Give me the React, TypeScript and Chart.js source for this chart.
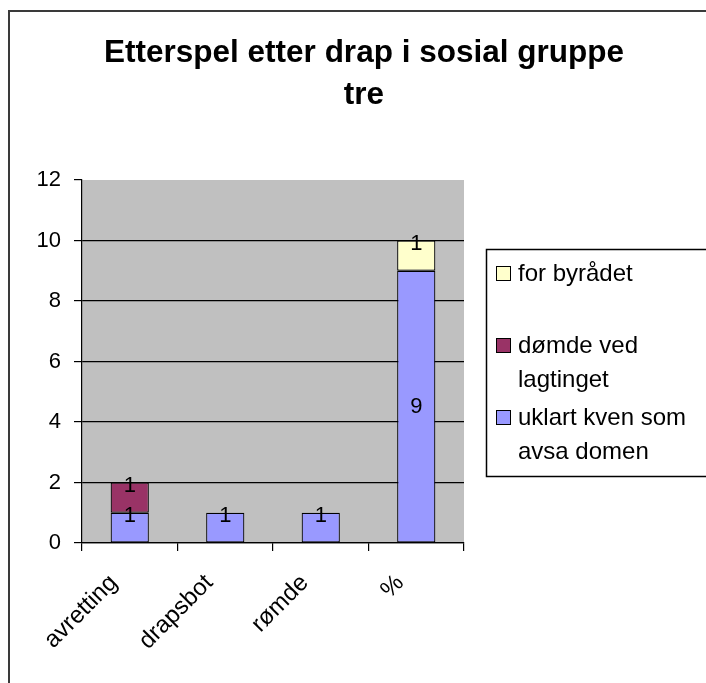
import React, { useEffect, useRef } from 'react';
import { Chart, registerables, layouts } from 'chart.js';

Chart.register(...registerables);

// ---- data ----
const categories = ['avretting', 'drapsbot', 'rømde', '%'];
const uklartKvenSom = [1, 1, 1, 9];
const domdeVedLagtinget = [1, null, null, null];
const forByradet = [null, null, null, 1];
const seriesNames = ['uklart kven som avsa domen', 'dømde ved lagtinget', 'for byrådet'];
const seriesColors = ['#9999FF', '#993366', '#FFFFCC'];
const titleLines = ['Etterspel etter drap i sosial gruppe', 'tre'];
const yMin = 0;
const yMax = 12;
const yStep = 2;

const FONT = '"Liberation Sans", Arial, sans-serif';

function wrapText(ctx: CanvasRenderingContext2D, text: string, maxW: number): string[] {
  const words = text.split(' ');
  const lines: string[] = [];
  let cur = '';
  for (const w of words) {
    const t = cur ? cur + ' ' + w : w;
    if (cur && ctx.measureText(t).width > maxW) {
      lines.push(cur);
      cur = w;
    } else {
      cur = t;
    }
  }
  if (cur) lines.push(cur);
  return lines;
}

function drawSideLegend(chart: any) {
  const ctx: CanvasRenderingContext2D = chart.ctx;
  const boxL = 486, boxT = 249, boxB = 476;
  ctx.save();
  ctx.strokeStyle = '#000';
  ctx.lineWidth = 1.5;
  ctx.strokeRect(boxL + 0.5, boxT + 0.5, chart.width - boxL + 20, boxB - boxT);
  ctx.font = '24px ' + FONT;
  ctx.textBaseline = 'middle';
  ctx.textAlign = 'left';
  const ds = chart.data.datasets.slice().reverse();
  ds.forEach((d: any, i: number) => {
    const y0 = 274 + 72 * i;
    ctx.fillStyle = d.backgroundColor;
    ctx.fillRect(496, y0 - 8, 15, 15);
    ctx.strokeStyle = '#000';
    ctx.lineWidth = 1;
    ctx.strokeRect(496.5, y0 - 7.5, 14, 14);
    ctx.fillStyle = '#000';
    const lines = wrapText(ctx, d.label, 185);
    lines.forEach((ln, j) => ctx.fillText(ln, 518, y0 + j * 34));
  });
  ctx.restore();
}

const sideLegendPlugin = {
  id: 'sideLegend',
  beforeInit(chart: any) {
    const box: any = {
      position: 'right',
      weight: 100,
      fullSize: false,
      options: {},
      left: 0, top: 0, right: 0, bottom: 0, width: 0, height: 0,
      isHorizontal() { return false; },
      update(_mw: number, maxHeight: number) { this.width = 242; this.height = maxHeight; },
      getPadding() { return { top: 0, left: 0, right: 0, bottom: 0 }; },
      draw() { drawSideLegend(chart); },
    };
    layouts.addBox(chart, box);
  },
};

const backgroundPlugin = {
  id: 'bgFrame',
  beforeDraw(chart: any) {
    const ctx: CanvasRenderingContext2D = chart.ctx;
    const a = chart.chartArea;
    ctx.save();
    ctx.fillStyle = '#fff';
    ctx.fillRect(0, 0, chart.width, chart.height);
    ctx.strokeStyle = '#3a3a3a';
    ctx.lineWidth = 2;
    ctx.beginPath();
    ctx.moveTo(9, chart.height + 5);
    ctx.lineTo(9, 11);
    ctx.lineTo(chart.width + 5, 11);
    ctx.stroke();
    ctx.fillStyle = '#C0C0C0';
    ctx.fillRect(a.left, a.top, a.right - a.left, a.bottom - a.top);
    ctx.restore();
  },
};

const valueLabelPlugin = {
  id: 'valueLabels',
  afterDatasetsDraw(chart: any) {
    const ctx: CanvasRenderingContext2D = chart.ctx;
    ctx.save();
    ctx.font = '22px ' + FONT;
    ctx.fillStyle = '#000';
    ctx.textAlign = 'center';
    ctx.textBaseline = 'middle';
    chart.data.datasets.forEach((d: any, di: number) => {
      const meta = chart.getDatasetMeta(di);
      meta.data.forEach((el: any, i: number) => {
        const v = d.data[i];
        if (v == null || v === 0) return;
        const { x, y, base } = el.getProps(['x', 'y', 'base'], true);
        const h = Math.abs(base - y);
        const ly = h > 60 ? (y + base) / 2 : y + 3;
        ctx.fillText(String(v), x, ly);
      });
    });
    ctx.restore();
  },
};

export default function App() {
  const ref = useRef<HTMLCanvasElement>(null);
  useEffect(() => {
    if (!ref.current) return;
    const seriesData = [uklartKvenSom, domdeVedLagtinget, forByradet];
    const chart = new Chart(ref.current, {
      type: 'bar',
      data: {
        labels: categories,
        datasets: seriesData.map((data, i) => ({
          label: seriesNames[i],
          data,
          backgroundColor: seriesColors[i],
          borderColor: '#000',
          borderWidth: 1.2,
          borderSkipped: false,
          barPercentage: 0.4,
          categoryPercentage: 1,
        })),
      },
      options: {
        responsive: false,
        animation: false,
        layout: { padding: { left: 22, right: 0, top: 0, bottom: 0 } },
        plugins: {
          legend: { display: false },
          tooltip: { enabled: false },
          title: {
            display: true,
            text: titleLines,
            color: '#000',
            font: { family: FONT, size: 31.5, weight: 'bold', lineHeight: '42px' },
            padding: { top: 32, bottom: 64 },
          },
        },
        scales: {
          x: {
            stacked: true,
            grid: {
              display: true,
              drawOnChartArea: false,
              drawTicks: true,
              tickLength: 8,
              tickColor: '#000',
              lineWidth: 1.2,
              offset: true,
            },
            border: { color: '#000', width: 1.2 },
            ticks: {
              color: '#000',
              font: { family: FONT, size: 24 },
              minRotation: 45,
              maxRotation: 45,
              labelOffset: -16,
              padding: 18,
              autoSkip: false,
            },
            afterFit: (s: any) => { s.height = 140; },
          },
          y: {
            stacked: true,
            min: yMin,
            max: yMax,
            ticks: {
              stepSize: yStep,
              color: '#000',
              font: { family: FONT, size: 22 },
              padding: 13,
            },
            grid: {
              color: (c: any) => (c.tick && c.tick.value === yMax ? 'rgba(0,0,0,0)' : '#000'),
              tickColor: '#000',
              tickLength: 8,
              lineWidth: 1.2,
            },
            border: { color: '#000', width: 1.2 },
            afterFit: (s: any) => { s.width = 60; },
          },
        },
      } as any,
      plugins: [sideLegendPlugin, backgroundPlugin, valueLabelPlugin] as any,
    });
    return () => chart.destroy();
  }, []);
  return (
    <div style={{ position: 'fixed', left: 0, top: 0, width: 706, height: 683, overflow: 'hidden', background: '#fff' }}>
      <canvas ref={ref} width={706} height={683} style={{ display: 'block' }} />
    </div>
  );
}
